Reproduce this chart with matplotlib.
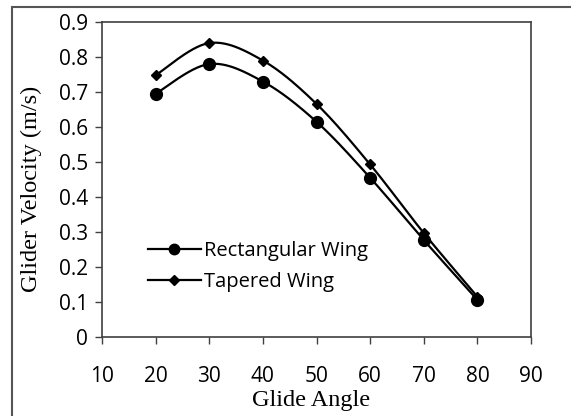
import numpy as np
import matplotlib
matplotlib.use("Agg")
import matplotlib.pyplot as plt
from matplotlib.patches import Rectangle

# ------------------ DATA ------------------
glide_angle = [20, 30, 40, 50, 60, 70, 80]
rectangular = [0.695, 0.78, 0.73, 0.615, 0.455, 0.277, 0.106]
tapered = [0.748, 0.84, 0.79, 0.666, 0.493, 0.297, 0.115]

x_ticks = [10, 20, 30, 40, 50, 60, 70, 80, 90]
y_ticks = [0, 0.1, 0.2, 0.3, 0.4, 0.5, 0.6, 0.7, 0.8, 0.9]
y_tick_labels = ["0", "0.1", "0.2", "0.3", "0.4", "0.5", "0.6", "0.7", "0.8", "0.9"]


# Excel-style smoothed line (cubic Bezier through the points)
def smooth(xs, ys, n=30):
    p = np.column_stack([xs, ys]).astype(float)
    ext = np.vstack([p[0], p, p[-1]])
    out = []
    t = np.linspace(0, 1, n)[:, None]
    for i in range(len(p) - 1):
        p0, p3 = ext[i + 1], ext[i + 2]
        c1 = p0 + (ext[i + 2] - ext[i]) / 6
        c2 = p3 - (ext[i + 3] - ext[i + 1]) / 6
        seg = ((1 - t) ** 3) * p0 + 3 * ((1 - t) ** 2) * t * c1 + 3 * (1 - t) * t ** 2 * c2 + t ** 3 * p3
        out.append(seg if i == 0 else seg[1:])
    out = np.vstack(out)
    return out[:, 0], out[:, 1]


fig = plt.figure(figsize=(5.71, 4.16), dpi=100)
ax = fig.add_axes([0.1786, 0.19, 0.7514, 0.757])

sans = "Open Sans"
serif = "Liberation Serif"
dark = "#404040"

sx, sy = smooth(glide_angle, rectangular)
ax.plot(sx, sy, color="black", lw=1.6)
ax.plot(glide_angle, rectangular, ls="none", marker="o", ms=8.5, color="black")
tx, ty = smooth(glide_angle, tapered)
ax.plot(tx, ty, color="black", lw=1.6)
ax.plot(glide_angle, tapered, ls="none", marker="D", ms=5.5, color="black")

# legend proxies
h1, = ax.plot([], [], color="black", lw=1.6, marker="o", ms=7.5)
h2, = ax.plot([], [], color="black", lw=1.6, marker="D", ms=5)
ax.legend([h1, h2], ["Rectangular Wing", "Tapered Wing"], loc="center left",
          bbox_to_anchor=(0.089, 0.224), frameon=False, handlelength=2.6,
          handletextpad=0.15, labelspacing=0.55, borderaxespad=0,
          prop={"family": sans, "size": 14.5})

ax.set_xlim(10, 90)
ax.set_ylim(0, 0.9)
ax.set_xticks(x_ticks)
ax.set_yticks(y_ticks)
ax.set_yticklabels(y_tick_labels)
ax.tick_params(direction="out", length=5, width=1, color=dark, labelsize=15, pad=5)
for lab in ax.get_xticklabels() + ax.get_yticklabels():
    lab.set_family(sans)
ax.tick_params(axis="x", pad=16)
for s in ax.spines.values():
    s.set_color(dark)
    s.set_linewidth(1.2)

ax.set_xlabel("Glide Angle", family=serif, fontsize=17.5)
ax.set_ylabel("Glider Velocity (m/s)", family=serif, fontsize=17.5)
ax.xaxis.set_label_coords(0.488, -0.167)
ax.yaxis.set_label_coords(-0.14, 0.47)

# outer chart frame
fig.add_artist(Rectangle((12 / 571, -0.05), 1.0, 1.05 - 7 / 416, transform=fig.transFigure,
                         fill=False, edgecolor="#555555", lw=1.5, clip_on=False))

fig.savefig("out.png", dpi=100)
